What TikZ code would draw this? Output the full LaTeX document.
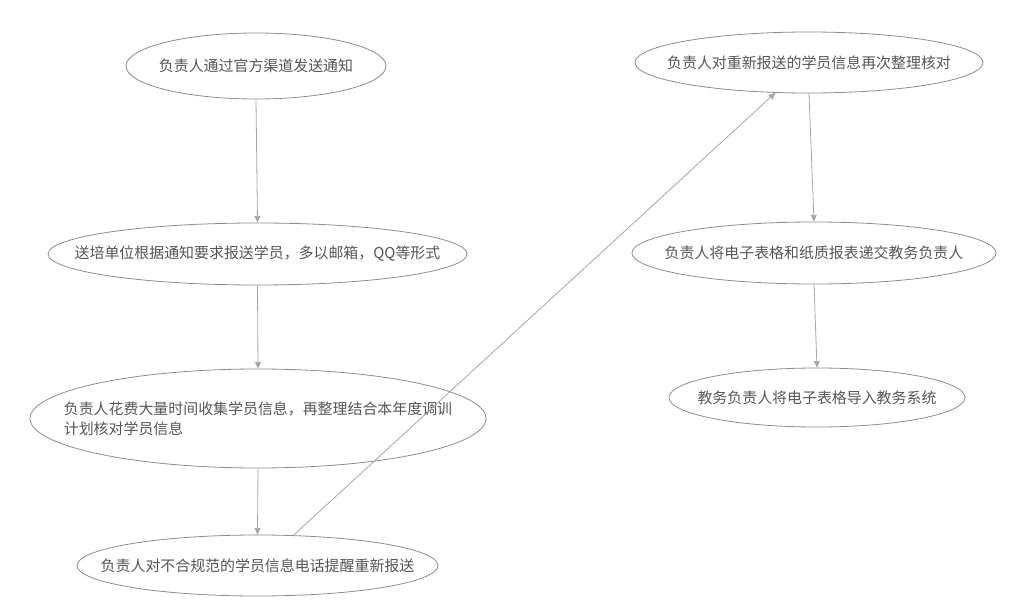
\documentclass[tikz,border=0pt]{standalone}
\usepackage{fontspec}
\newfontfamily\cjk{Noto Sans CJK SC}
\usetikzlibrary{shapes.geometric,arrows.meta}
\definecolor{txt}{HTML}{555555}
\definecolor{edge}{HTML}{8C8C8C}
\definecolor{arr}{HTML}{A6A6A6}
\tikzset{
  px/.style={x=0.75pt,y=-0.75pt},
  oval/.style={ellipse,draw=edge,line width=0.6pt,inner sep=0pt,
    label={[text=txt,align=left,font=\cjk\fontsize{11.2pt}{15pt}\selectfont]center:#1}},
  flow/.style={draw=arr,line width=0.6pt,-{Triangle[length=5pt,width=4.5pt]}}
}
\begin{document}
\begin{tikzpicture}[px]
\useasboundingbox (0,0) rectangle (1029,610);
\node[oval={负责人通过官方渠道发送通知},minimum width=260*0.75pt,minimum height=66*0.75pt] (e1) at (256,66) {};
\node[oval={送培单位根据通知要求报送学员，多以邮箱，QQ等形式},minimum width=419*0.75pt,minimum height=62*0.75pt] (e2) at (257.5,254) {};
\node[oval={负责人花费大量时间收集学员信息，再整理结合本年度调训\\计划核对学员信息},minimum width=456*0.75pt,minimum height=99*0.75pt] (e3) at (258,418.5) {};
\node[oval={负责人对不合规范的学员信息电话提醒重新报送},minimum width=361*0.75pt,minimum height=61*0.75pt] (e4) at (257.5,565.5) {};
\node[oval={负责人对重新报送的学员信息再次整理核对},minimum width=348*0.75pt,minimum height=61*0.75pt] (e5) at (809,62.5) {};
\node[oval={负责人将电子表格和纸质报表递交教务负责人},minimum width=364*0.75pt,minimum height=62*0.75pt] (e6) at (814,253) {};
\node[oval={教务负责人将电子表格导入教务系统},minimum width=296*0.75pt,minimum height=59*0.75pt] (e7) at (817,397.5) {};
\draw[flow] (e1.south) -- (e2.north);
\draw[flow] (e2.south) -- (e3.north);
\draw[flow] (e3.south) -- (e4.north);
\draw[flow] (e4.40.6) -- (e5.222.8);
\draw[flow] (e5.south) -- (e6.north);
\draw[flow] (e6.south) -- (e7.north);
\end{tikzpicture}
\end{document}
